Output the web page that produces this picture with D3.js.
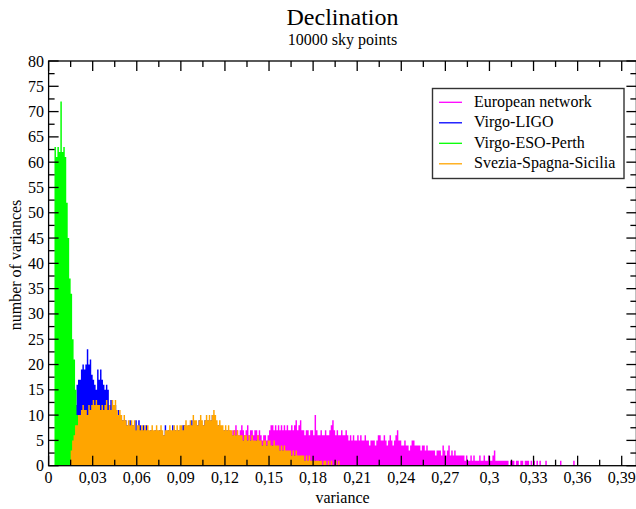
<!DOCTYPE html>
<html><head><meta charset="utf-8">
<script src="https://cdn.jsdelivr.net/npm/d3@7"></script>
<style>
body{margin:0;background:#fff}
svg{display:block}
text{font-family:"Liberation Serif","Times New Roman",serif;fill:#000}
</style>
</head><body>
<svg id="chart" width="636" height="509"></svg>
<script>
// ---- data (histogram counts, bin width 0.001 in variance) ----
const binWidth = 0.001;
const titleText = "Declination";
const subtitleText = "10000 sky points";
const xTitle = "variance";
const yTitle = "number of variances";

const seriesNames = ["European network", "Virgo-LIGO", "Virgo-ESO-Perth", "Svezia-Spagna-Sicilia"];
const seriesColors = ["#ff00ff", "#0000ff", "#00ff00", "#ffa500"];

// first bin index (variance = index * binWidth) of each series
const europeanStart = 10;
const europeanCounts = [
  1,2,2,3,3,
  2,2,3,3,4,4,4,5,4,5,
  5,5,6,5,5,6,5,6,6,5,
  6,6,6,5,6,6,5,6,5,6,
  6,5,5,6,5,5,6,5,5,6,
  5,5,6,5,5,6,5,5,6,5,
  6,5,6,5,5,6,5,6,6,5,
  5,6,5,5,6,5,5,6,5,5,
  6,5,6,5,6,6,5,6,6,5,
  6,6,5,6,6,5,6,7,6,6,
  6,7,6,6,7,6,7,7,6,6,
  6,7,6,6,6,
  7,6,7,7,6,7,7,8,7,6,
  7,8,7,6,7,8,6,7,7,6,
  7,7,6,7,6,5,6,6,5,6,
  7,8,8,7,8,7,8,7,8,7,
  8,7,8,7,7,8,7,8,9,7,
  8,9,7,7,6,7,7,6,7,7,
  6,10,7,6,6,7,6,6,7,6,
  6,7,8,9,7,6,7,6,6,7,
  6,6,7,6,5,6,5,6,5,5,
  6,5,6,5,5,6,5,5,4,5,
  5,5,4,5,6,6,5,5,6,5,
  4,5,6,5,4,5,6,7,5,5,
  4,4,5,4,4,3,4,5,5,4,
  4,4,4,3,4,4,3,4,3,3,
  3,3,3,2,3,3,3,2,4,3,
  2,3,4,2,3,2,3,2,2,2,
  2,2,2,1,2,1,1,2,1,2,
  1,1,1,2,1,1,2,1,1,2,
  1,1,2,3,1,1,1,1,1,1,
  1,1,1,0,1,1,1,0,1,1,
  0,1,1,0,1,1,1,0,1,0,
  1,0,1,0,1,0,0,0,1,0,
  0,0,0,0,0,0,0,0,1,0,
  0,0,0,0,0,0,0,1,0,0,0
];

const virgoLigoStart = 15;
const virgoLigoCounts = [
  2,4,6,12,16,17,17,19,20,19,
  20,23,20,21,18,17,16,15,19,17,
  19,17,16,15,16,15,12,13,11,12,
  12,10,11,9,10,9,9,9,8,8,
  9,8,8,7,9,7,9,8,7,8,
  7,8,7,6,7,7,6,7,7,6,
  7,7,6,6,8,6,7,7,6,8,
  6,7,6,7,7,6,8,8,7,7,
  8,7,9,8,8,7,8,9,8,7,
  8,9,8,9,8,9,10,9,8,7,
  8,7,7,6,7,6,7,6,6,5,
  6,5,6,5,5,5,4,5,5,4,
  5,4,5,4,4,4,5,4,4,3,
  4,4,3,4,4,3,3,4,3,3,
  3,2,3,2,3,2,2,2,2,1,
  2,1,2,1,1,1,1,1,1,1,
  1,0,1,0,1,0,1,0,0,1
];

const virgoEsoStart = 4;
const virgoEsoCounts = [63,61,63,62,72,62,63,61,52,45,37,34,25,21,15,10];

const sveziaStart = 15;
const sveziaCounts = [
  3,5,6,8,8,10,10,11,12,11,
  11,10,12,11,12,13,12,13,12,12,
  11,12,11,12,13,11,12,11,13,12,
  13,11,10,11,10,9,10,9,8,9,
  8,9,8,9,7,8,8,7,8,7,
  8,7,8,7,7,8,7,7,8,7,
  7,8,7,6,7,7,7,8,7,7,
  8,7,8,7,8,8,7,8,9,8,
  8,9,8,10,9,9,8,9,10,9,
  8,9,10,9,10,9,10,11,10,9,
  8,9,8,8,7,8,7,8,7,7,
  6,7,6,7,6,6,6,5,6,6,
  5,6,5,6,5,5,5,6,5,5,
  4,5,5,4,5,5,4,4,5,4,
  4,4,3,4,3,4,3,3,3,3,
  2,3,2,3,2,2,2,2,2,1,
  2,1,2,1,1,1,1,1,1,1,
  1,0,1,1,0,1,0,1,0,0,
  1,0,1,0,0
];

const xMajorTicks = [0,0.03,0.06,0.09,0.12,0.15,0.18,0.21,0.24,0.27,0.3,0.33,0.36,0.39];
const xTickLabels = ["0","0,03","0,06","0,09","0,12","0,15","0,18","0,21","0,24","0,27","0,3","0,33","0,36","0,39"];
const xMinorTicks = [0.015,0.045,0.075,0.105,0.135,0.165,0.195,0.225,0.255,0.285,0.315,0.345,0.375];
const yMajorTicks = [0,5,10,15,20,25,30,35,40,45,50,55,60,65,70,75,80];
const yTickLabels = ["0","5","10","15","20","25","30","35","40","45","50","55","60","65","70","75","80"];
const yMinorTicks = [2.5,7.5,12.5,17.5,22.5,27.5,32.5,37.5,42.5,47.5,52.5,57.5,62.5,67.5,72.5,77.5];

// ---- drawing ----
const svg = d3.select("#chart");
const x = d3.scaleLinear().domain([0, 0.4]).range([48.6, 636.4]);
const y = d3.scaleLinear().domain([0, 80]).range([465.7, 61]);

const series = [
  {name: seriesNames[0], color: seriesColors[0], start: europeanStart, counts: europeanCounts},
  {name: seriesNames[1], color: seriesColors[1], start: virgoLigoStart, counts: virgoLigoCounts},
  {name: seriesNames[2], color: seriesColors[2], start: virgoEsoStart, counts: virgoEsoCounts},
  {name: seriesNames[3], color: seriesColors[3], start: sveziaStart, counts: sveziaCounts}
];

const area = d3.area()
  .x(d => x(d[0]))
  .y0(y(0))
  .y1(d => y(d[1]));

svg.append("g").selectAll("path")
  .data(series)
  .join("path")
  .attr("fill", d => d.color)
  .attr("stroke", "none")
  .attr("d", s => {
    const pts = [];
    s.counts.forEach((c, k) => {
      const v0 = (s.start + k) * binWidth;
      pts.push([v0, c], [v0 + binWidth, c]);
    });
    return area(pts);
  });

// frame
const [xl, xr] = x.range();
const [yb, yt] = y.range();
svg.append("rect")
  .attr("x", xl).attr("y", yt)
  .attr("width", xr - xl).attr("height", yb - yt)
  .attr("fill", "none").attr("stroke", "#000").attr("stroke-width", 1.3);

const ticks = svg.append("g").attr("stroke", "#000").attr("stroke-width", 1.3);
const majorLen = 10, minorLen = 6;
function xTicks(vals, len) {
  vals.forEach(v => {
    ticks.append("line").attr("x1", x(v)).attr("x2", x(v)).attr("y1", yb).attr("y2", yb - len);
    ticks.append("line").attr("x1", x(v)).attr("x2", x(v)).attr("y1", yt).attr("y2", yt + len);
  });
}
function yTicks(vals, len) {
  vals.forEach(v => {
    ticks.append("line").attr("x1", xl).attr("x2", xl + len).attr("y1", y(v)).attr("y2", y(v));
    ticks.append("line").attr("x1", xr).attr("x2", xr - len).attr("y1", y(v)).attr("y2", y(v));
  });
}
xTicks(xMajorTicks, majorLen);
xTicks(xMinorTicks, minorLen);
yTicks(yMajorTicks, majorLen);
yTicks(yMinorTicks, minorLen);

// tick labels
svg.append("g").selectAll("text")
  .data(xMajorTicks)
  .join("text")
  .attr("x", d => x(d)).attr("y", 483)
  .attr("text-anchor", "middle")
  .attr("font-size", 16)
  .text((d, i) => xTickLabels[i]);

svg.append("g").selectAll("text")
  .data(yMajorTicks)
  .join("text")
  .attr("x", 44).attr("y", d => y(d) + 5.5)
  .attr("text-anchor", "end")
  .attr("font-size", 16)
  .text((d, i) => yTickLabels[i]);

// titles
svg.append("text").attr("x", 342.5).attr("y", 25).attr("text-anchor", "middle")
  .attr("font-size", 24).text(titleText);
svg.append("text").attr("x", 342.5).attr("y", 45).attr("text-anchor", "middle")
  .attr("font-size", 16).text(subtitleText);
svg.append("text").attr("x", 342.5).attr("y", 503).attr("text-anchor", "middle")
  .attr("font-size", 16).text(xTitle);
svg.append("text").attr("transform", "translate(21,265) rotate(-90)").attr("text-anchor", "middle")
  .attr("font-size", 16).text(yTitle);

// legend
const lg = svg.append("g");
lg.append("rect").attr("x", 432.5).attr("y", 88.5).attr("width", 191.5).attr("height", 90)
  .attr("fill", "#fff").attr("stroke", "#333").attr("stroke-width", 1.4);
series.forEach((s, i) => {
  const cy = 102.3 + i * 20.5;
  lg.append("line").attr("x1", 439).attr("x2", 462).attr("y1", cy).attr("y2", cy)
    .attr("stroke", s.color).attr("stroke-width", 1.3);
  lg.append("text").attr("x", 474).attr("y", cy + 4.6).attr("font-size", 16).text(s.name);
});
</script>
</body></html>
